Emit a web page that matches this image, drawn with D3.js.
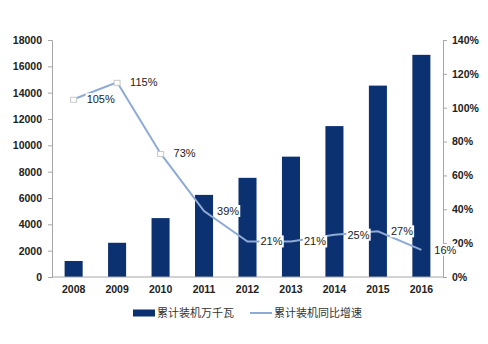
<!DOCTYPE html>
<html><head><meta charset="utf-8">
<script src="https://cdn.jsdelivr.net/npm/d3@7/dist/d3.min.js"></script>
<style>body{margin:0;background:#fff}svg{display:block}</style>
</head><body>
<script>
const years = ["2008","2009","2010","2011","2012","2013","2014","2015","2016"];
const capacity = [1217, 2599, 4473, 6236, 7532, 9141, 11461, 14536, 16873];
const growth = [1.05, 1.15, 0.73, 0.39, 0.21, 0.21, 0.25, 0.27, 0.16];
const leftTicks = [0,2000,4000,6000,8000,10000,12000,14000,16000,18000];
const rightTicks = [0,0.2,0.4,0.6,0.8,1.0,1.2,1.4];
const seriesNames = ["累计装机万千瓦","累计装机同比增速"];

const W=488,H=344;
const svg=d3.select("body").append("svg").attr("width",W).attr("height",H);
const L=52,R=443,T=40,B=277;
const font="Arial, 'Liberation Sans', 'Noto Sans CJK SC', sans-serif";
const barColor="#0b3170", lineColor="#8eaad6", axisColor="#a6a6a6";

const x=d3.scaleBand().domain(years).range([L,R]).paddingInner(0.585).paddingOuter(0.29);
const yL=d3.scaleLinear().domain([0,18000]).range([B,T]);
const yR=d3.scaleLinear().domain([0,1.4]).range([B,T]);

// bars
svg.append("g").selectAll("rect").data(years).join("rect")
  .attr("x",d=>x(d)).attr("width",x.bandwidth())
  .attr("y",(d,i)=>yL(capacity[i])).attr("height",(d,i)=>B-yL(capacity[i]))
  .attr("fill",barColor);

// axes
const gl=svg.append("g").attr("transform",`translate(${L},0)`)
  .call(d3.axisLeft(yL).tickValues(leftTicks).tickFormat(d3.format("d")).tickSize(4).tickSizeOuter(4));
const gr=svg.append("g").attr("transform",`translate(${R},0)`)
  .call(d3.axisRight(yR).tickValues(rightTicks).tickFormat(d3.format(".0%")).tickSize(4).tickSizeOuter(4));
const gb=svg.append("g").attr("transform",`translate(0,${B})`)
  .call(d3.axisBottom(x).tickSize(0).tickPadding(9));
[gl,gr,gb].forEach(g=>{
  g.selectAll("path,line").attr("stroke",axisColor);
  g.selectAll("text").attr("font-family",font).attr("font-size",10.5).attr("font-weight","bold").attr("fill","#222");
});
gl.selectAll("text").attr("x",-10);
gr.selectAll("text").attr("x",9);
gb.select("path.domain").attr("d",`M${L},0H${R}`);

// line
const cx=d=>x(d)+x.bandwidth()/2;
svg.append("path").datum(years)
  .attr("d",d3.line().x(d=>cx(d)).y((d,i)=>yR(growth[i])))
  .attr("fill","none").attr("stroke",lineColor).attr("stroke-width",2);

// small markers for points not over bars (first three)
svg.append("g").selectAll("rect").data(years.slice(0,3)).join("rect")
  .attr("x",d=>cx(d)-3).attr("y",(d,i)=>yR(growth[i])-2).attr("width",6).attr("height",5)
  .attr("fill","#fff").attr("stroke","#c8c8c8").attr("stroke-width",1);

// labels
const lg=svg.append("g");
years.forEach((d,i)=>{
  const px=cx(d)+11, py=yR(growth[i]);
  const t=lg.append("text").attr("x",px+2).attr("y",py+4)
    .attr("font-family",font).attr("font-size",11).attr("fill","#222")
    .text(d3.format(".0%")(growth[i]));
  const bb=t.node().getBBox();
  lg.insert("rect","text").attr("x",bb.x-1).attr("y",bb.y).attr("width",bb.width+2).attr("height",bb.height).attr("fill","#fff");
});

// legend
const ly=313;
svg.append("rect").attr("x",133).attr("y",ly-3.5).attr("width",22).attr("height",7).attr("fill",barColor);
svg.append("text").attr("x",157).attr("y",ly+4).attr("font-family",font).attr("font-size",11).attr("fill","#333").text(seriesNames[0]);
svg.append("line").attr("x1",250).attr("x2",272).attr("y1",ly).attr("y2",ly).attr("stroke",lineColor).attr("stroke-width",2);
svg.append("text").attr("x",274).attr("y",ly+4).attr("font-family",font).attr("font-size",11).attr("fill","#333").text(seriesNames[1]);
</script>
</body></html>
